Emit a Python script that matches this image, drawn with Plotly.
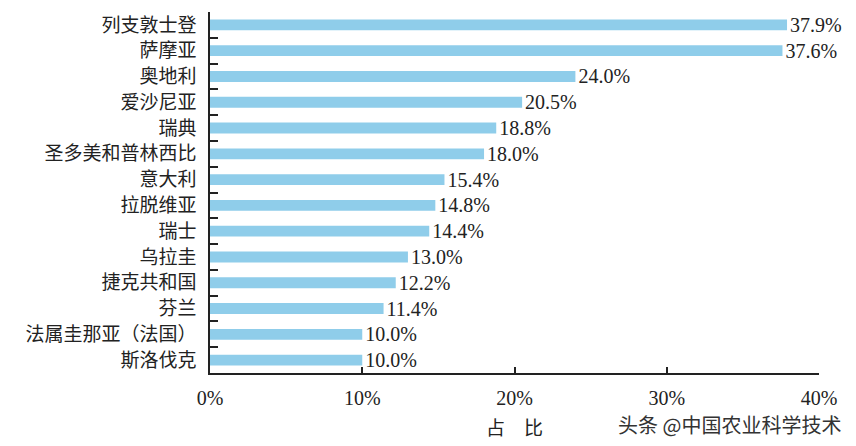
import plotly.graph_objects as go

countries = ["列支敦士登", "萨摩亚", "奥地利", "爱沙尼亚", "瑞典", "圣多美和普林西比",
             "意大利", "拉脱维亚", "瑞士", "乌拉圭", "捷克共和国", "芬兰",
             "法属圭那亚（法国）", "斯洛伐克"]
shares = [37.9, 37.6, 24.0, 20.5, 18.8, 18.0, 15.4, 14.8, 14.4, 13.0, 12.2, 11.4, 10.0, 10.0]
x_ticks = [0, 10, 20, 30, 40]
x_tick_labels = ["0%", "10%", "20%", "30%", "40%"]

serif = "Liberation Serif, Times New Roman, serif"
cjk = "Noto Sans CJK SC"

fig = go.Figure(go.Bar(
    x=shares, y=countries, orientation="h",
    marker=dict(color="#8FCDEA", line=dict(width=0)),
    width=0.42,
    text=[f"{v:.1f}%" for v in shares],
    textposition="outside",
    constraintext="none",
    textfont=dict(family=serif, size=20, color="#222"),
    cliponaxis=False,
))

fig.update_layout(
    width=856, height=446,
    margin=dict(l=210, r=37, t=10, b=73),
    paper_bgcolor="white", plot_bgcolor="white",
    showlegend=False,
    xaxis=dict(
        range=[0, 40], tickvals=x_ticks, ticktext=x_tick_labels,
        showgrid=False, zeroline=False,
        showline=True, linecolor="#222", linewidth=1.5,
        ticks="inside", ticklen=6, tickwidth=1.5, tickcolor="#222",
        tickfont=dict(family=serif, size=20, color="#222"),
        ticklabelstandoff=6,
        title=dict(text="占　比", font=dict(family=cjk, size=19, color="#222"), standoff=14),
    ),
    yaxis=dict(
        type="category", categoryorder="array", categoryarray=countries,
        range=[13.5, -0.5],
        showgrid=False, zeroline=False,
        showline=True, linecolor="#222", linewidth=1.5,
        ticks="inside", tickson="boundaries", ticklen=8, tickwidth=1.5, tickcolor="#222",
        tickfont=dict(family=cjk, size=19, color="#222"),
        ticklabelstandoff=8,
    ),
    annotations=[dict(
        text="头条 @中国农业科学技术", xref="paper", yref="paper",
        x=1.039, y=-0.143, xanchor="right", yanchor="middle", showarrow=False,
        font=dict(family=cjk, size=20, color="#333"),
    )],
)

fig.write_html("out.html")
